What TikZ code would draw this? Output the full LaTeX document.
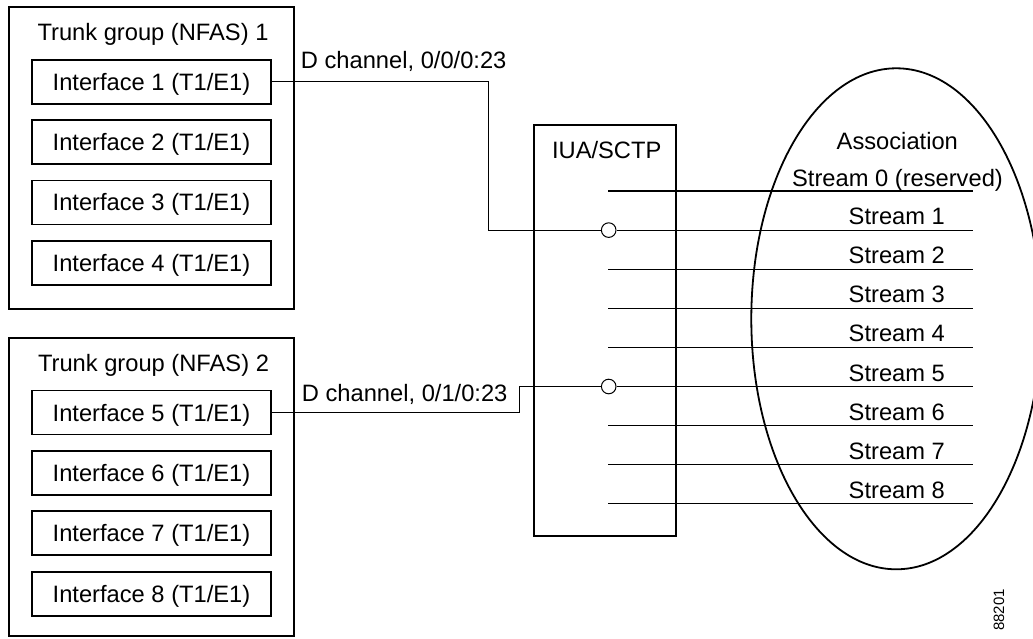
\documentclass[tikz,border=0pt]{standalone}
\usepackage{fontspec}
\setmainfont{Liberation Sans}
\usetikzlibrary{shapes.geometric}
\begin{document}
\begin{tikzpicture}[x=1pt,y=-1pt,
  lbl/.style={font=\fontsize{23.7}{28}\selectfont, inner sep=0pt},
  group/.style={draw, line width=2pt, minimum width=285pt, inner sep=0pt},
  iface/.style={draw, line width=1.2pt, minimum width=239pt, minimum height=44pt,
    inner sep=0pt, font=\fontsize{23.7}{28}\selectfont, text height=17pt, text depth=0pt},
  wire/.style={line width=1pt},
  strm/.style={line width=1.2pt},
  joint/.style={circle, draw, fill=white, line width=1pt, minimum size=14.6pt, inner sep=0pt},
  assoc/.style={ellipse, draw, line width=1.8pt, minimum width=290pt, minimum height=501pt, inner sep=0pt},
  stack/.style={draw, line width=2pt, minimum width=142pt, minimum height=410pt, inner sep=0pt}
]
\useasboundingbox (0,0) rectangle (1033,639);

% trunk groups
\node[group, minimum height=302pt] (g1) at (151.5,158) {};
\node[group, minimum height=298pt] (g2) at (151.5,487) {};
\node[lbl, anchor=base] (g1t) at (153,41) {Trunk group (NFAS) 1};
\node[lbl, anchor=base] (g2t) at (153.5,371) {Trunk group (NFAS) 2};

\node[iface] (if1) at (151.5,82)    {Interface 1 (T1/E1)};
\node[iface] (if2) at (151.5,142)   {Interface 2 (T1/E1)};
\node[iface] (if3) at (151.5,202.5) {Interface 3 (T1/E1)};
\node[iface] (if4) at (151.5,263)   {Interface 4 (T1/E1)};
\node[iface] (if5) at (151.5,412.5) {Interface 5 (T1/E1)};
\node[iface] (if6) at (151.5,473)   {Interface 6 (T1/E1)};
\node[iface] (if7) at (151.5,533)   {Interface 7 (T1/E1)};
\node[iface] (if8) at (151.5,594)   {Interface 8 (T1/E1)};

% association ellipse
\node[assoc] (as) at (896.3,318.8) {};
\node[lbl, anchor=base] (ast) at (897.3,150) {Association};

% IUA/SCTP
\node[stack] (iua) at (605.2,330.5) {};
\node[lbl, anchor=base] (iuat) at (606.7,159) {IUA/SCTP};

% stream lines
\foreach \i/\yy in {0/191,1/230.1,2/269.2,3/308.3,4/347.4,5/386.5,6/425.6,7/464.7,8/503.8}{
  \coordinate (sa\i) at (608,\yy);
  \coordinate (sb\i) at (973,\yy);
}
\foreach \i in {0,2,3,4,6,7,8}{ \draw[strm] (sa\i) -- (sb\i); }
\node[joint] (c1) at (608.7,230.1) {};
\node[joint] (c5) at (608.7,386.5) {};
\draw[strm] (c1.east) -- (sb1);
\draw[strm] (c5.east) -- (sb5);

\node[lbl, anchor=base] (s0t) at (897.5,186.7) {Stream 0 (reserved)};
\foreach \i/\yy in {1/230.1,2/269.2,3/308.3,4/347.4,5/386.5,6/425.6,7/464.7,8/503.8}{
  \node[lbl, anchor=base] (s\i t) at (896.8,\yy-5.5) {Stream \i};
}

% D channels
\coordinate (k1) at (488,230.1);
\coordinate (k5) at (519.5,386.5);
\draw[wire] (if1.east) -| (k1) -- (c1.west);
\draw[wire] (if5.east) -| (k5) -- (c5.west);
\node[lbl, anchor=base west] (d1) at (300.7,68.5) {D channel, 0/0/0:23};
\node[lbl, anchor=base west] (d5) at (301.7,401.8) {D channel, 0/1/0:23};

% figure number
\node[font=\fontsize{15}{18}\selectfont, inner sep=0pt, rotate=90] (fig) at (999,610) {88201};
\end{tikzpicture}
\end{document}
